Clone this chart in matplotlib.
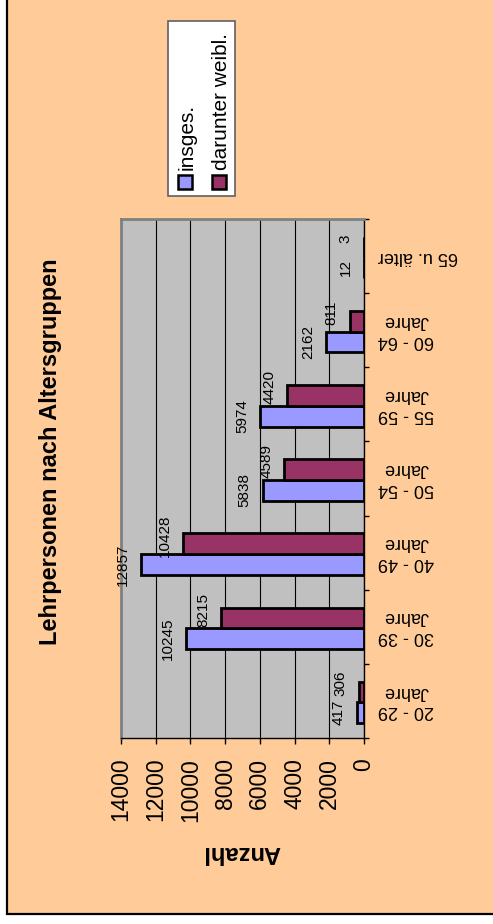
import matplotlib
matplotlib.use("Agg")
import matplotlib.pyplot as plt
from matplotlib.patches import Rectangle
import numpy as np

plt.rcParams['font.family'] = ['Liberation Sans', 'DejaVu Sans']

# Data
categories = ["20 - 29\nJahre", "30 - 39\nJahre", "40 - 49\nJahre", "50 - 54\nJahre",
              "55 - 59\nJahre", "60 - 64\nJahre", "65 u. älter"]
insges = [417, 10245, 12857, 5838, 5974, 2162, 12]
weibl = [306, 8215, 10428, 4589, 4420, 811, 3]
series_names = ["insges.", "darunter weibl."]
value_ticks = [0, 2000, 4000, 6000, 8000, 10000, 12000, 14000]

W, H = 493, 924
DPI = 100
fig = plt.figure(figsize=(W / DPI, H / DPI), dpi=DPI, facecolor="white")


def fx(px):
    return px / W


def fy(py):
    return 1 - py / H


# Chart area background with border
fig.patches.append(Rectangle((fx(7), fy(914)), fx(600), 2, transform=fig.transFigure,
                             facecolor="#FFCC99", edgecolor="black", linewidth=1.6, zorder=-10))

# Plot area (drawn sideways: values run right-to-left, categories bottom-to-top)
left, right, top, bottom = 121, 364, 219, 738
ax = fig.add_axes([fx(left), fy(bottom), fx(right - left), (bottom - top) / H])
ax.set_zorder(1)
ax.set_facecolor("#C0C0C0")

y = np.arange(len(categories))
h = 0.28
shift = -0.02
col_ins = "#9999FF"
col_w = "#993366"
ax.barh(y - h / 2 + shift, insges, height=h, color=col_ins, edgecolor="black", linewidth=2, zorder=3)
ax.barh(y + h / 2 + shift, weibl, height=h, color=col_w, edgecolor="black", linewidth=2, zorder=3)

ax.set_xlim(14000, 0)
ax.set_ylim(-0.5, len(categories) - 0.5)

# value labels
for yi, v in zip(y - h / 2 + shift, insges):
    ax.annotate(str(v), xy=(v, yi), xytext=(-8, 0), textcoords="offset points",
                rotation=90, ha="right", va="center", fontsize=11, zorder=4,
                annotation_clip=False)
for yi, v in zip(y + h / 2 + shift, weibl):
    ax.annotate(str(v), xy=(v, yi), xytext=(-8, 6), textcoords="offset points",
                rotation=90, ha="right", va="center", fontsize=11, zorder=4,
                annotation_clip=False)

# gridlines
ax.set_xticks(value_ticks)
ax.xaxis.grid(True, color="black", linewidth=0.8)
ax.set_axisbelow(True)
ax.set_xticklabels([str(t) for t in value_ticks], rotation=90, fontsize=16.5)
ax.tick_params(axis="x", direction="out", length=4.3, width=1, color="black", pad=10)

# category axis on the right
ax.yaxis.tick_right()
ax.set_yticks(y)
ax.set_yticks(np.arange(len(categories) + 1) - 0.5, minor=True)
ax.set_yticklabels(categories, rotation=180, fontsize=13, va="center", ha="left",
                   multialignment="center")
ax.tick_params(axis="y", which="major", length=0, pad=10)
ax.tick_params(axis="y", which="minor", direction="out", length=3.6, width=1, color="black",
               left=False, right=True)

for s in ["left", "top"]:
    ax.spines[s].set_color("#808080")
    ax.spines[s].set_linewidth(2)
for s in ["right", "bottom"]:
    ax.spines[s].set_color("black")
    ax.spines[s].set_linewidth(1)

# titles
fig.text(fx(51), fy(452), "Lehrpersonen nach Altersgruppen", rotation=90,
         ha="center", va="center", fontsize=17, fontweight="bold")
fig.text(fx(242), fy(852), "Anzahl", rotation=180, ha="center", va="center",
         fontsize=17, fontweight="bold")

# legend
fig.patches.append(Rectangle((fx(168), fy(196)), fx(235 - 168), (196 - 21) / H,
                             transform=fig.transFigure, facecolor="white",
                             edgecolor="#606060", linewidth=1.2, zorder=5))
for cx, col, name in [(184.5, col_ins, series_names[0]), (218.5, col_w, series_names[1])]:
    fig.patches.append(Rectangle((fx(cx - 7), fy(189)), fx(14), 14 / H,
                                 transform=fig.transFigure, facecolor=col,
                                 edgecolor="black", linewidth=1.8, zorder=6))
    fig.text(fx(cx + 3), fy(170), name, rotation=90, ha="center", va="bottom",
             fontsize=15, zorder=7)

fig.savefig("out.png", dpi=DPI, facecolor=fig.get_facecolor())
